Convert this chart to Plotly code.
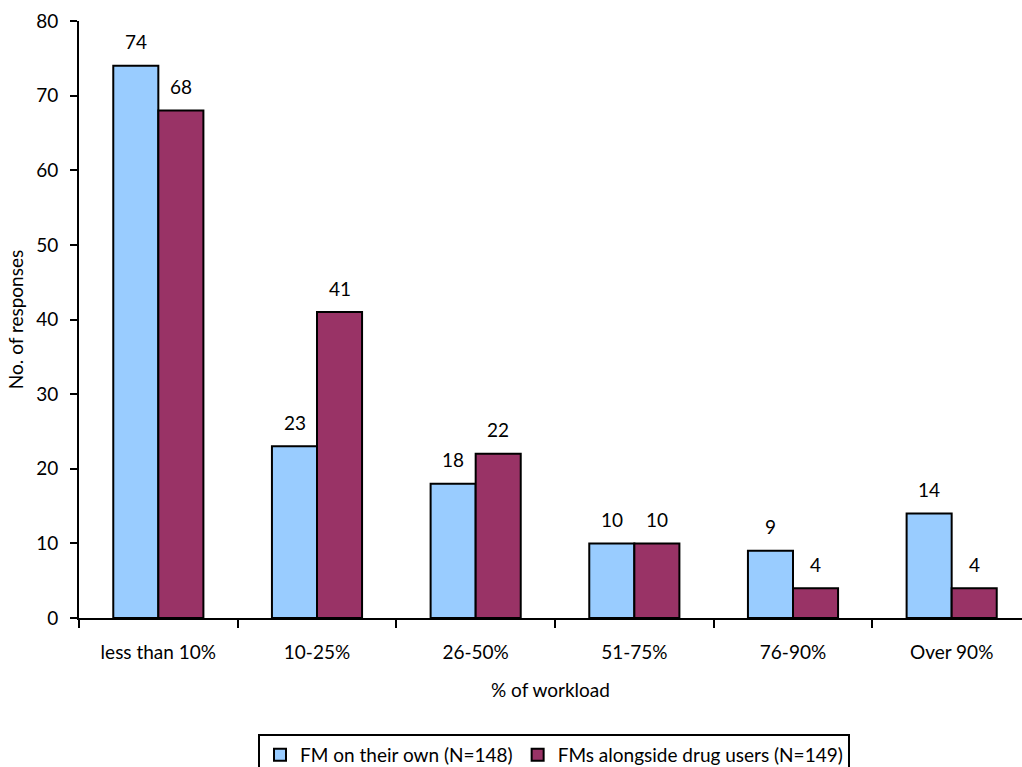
import plotly.graph_objects as go

categories = ["less than 10%", "10-25%", "26-50%", "51-75%", "76-90%", "Over 90%"]
fm_own = [74, 23, 18, 10, 9, 14]
fm_drug = [68, 41, 22, 10, 4, 4]
series_names = ["FM on their own (N=148)", "FMs alongside drug users (N=149)"]
y_ticks = [0, 10, 20, 30, 40, 50, 60, 70, 80]

FONT = "Lato"
FS = 19
colors = ["#99CCFF", "#993366"]

fig = go.Figure()
for name, vals, col in zip(series_names, [fm_own, fm_drug], colors):
    fig.add_trace(go.Bar(
        x=categories, y=vals, name=name,
        marker=dict(color=col, line=dict(color="black", width=2)),
    ))

bar_px = 45
for vals, shift in [(fm_own, -bar_px / 2), (fm_drug, bar_px / 2)]:
    for c, v in zip(categories, vals):
        fig.add_annotation(x=c, y=v, text=str(v), showarrow=False,
                           xshift=shift, yshift=24, yanchor="middle",
                           font=dict(family=FONT, size=FS, color="black"))

fig.update_layout(
    width=1022, height=767,
    margin=dict(l=79, r=0, t=21, b=149),
    paper_bgcolor="white", plot_bgcolor="white",
    barmode="group", bargap=0.432, bargroupgap=0,
    font=dict(family=FONT, size=FS, color="black"),
    showlegend=True,
    legend=dict(orientation="h", xref="container", yref="container",
                x=554 / 1022, xanchor="center", y=1 - 734 / 767, yanchor="top",
                bordercolor="black", borderwidth=2, bgcolor="white",
                font=dict(family=FONT, size=FS), itemwidth=30,
                traceorder="normal"),
)
fig.update_xaxes(
    range=[-0.5, 5.5 - 9 / 158.6],
    showline=True, linecolor="black", linewidth=2,
    ticks="outside", tickson="boundaries", ticklen=8, tickwidth=2, tickcolor="black",
    ticklabelstandoff=16, showgrid=False,
    title=dict(text="% of workload", standoff=22, font=dict(family=FONT, size=FS)),
)
fig.update_yaxes(
    range=[0, 80], tickvals=y_ticks,
    showline=True, linecolor="black", linewidth=2,
    ticks="outside", ticklen=7, tickwidth=2, tickcolor="black",
    ticklabelstandoff=8, showgrid=False, zeroline=False,
    title=dict(text="No. of responses", standoff=8, font=dict(family=FONT, size=FS)),
)

fig.write_html("out.html")
